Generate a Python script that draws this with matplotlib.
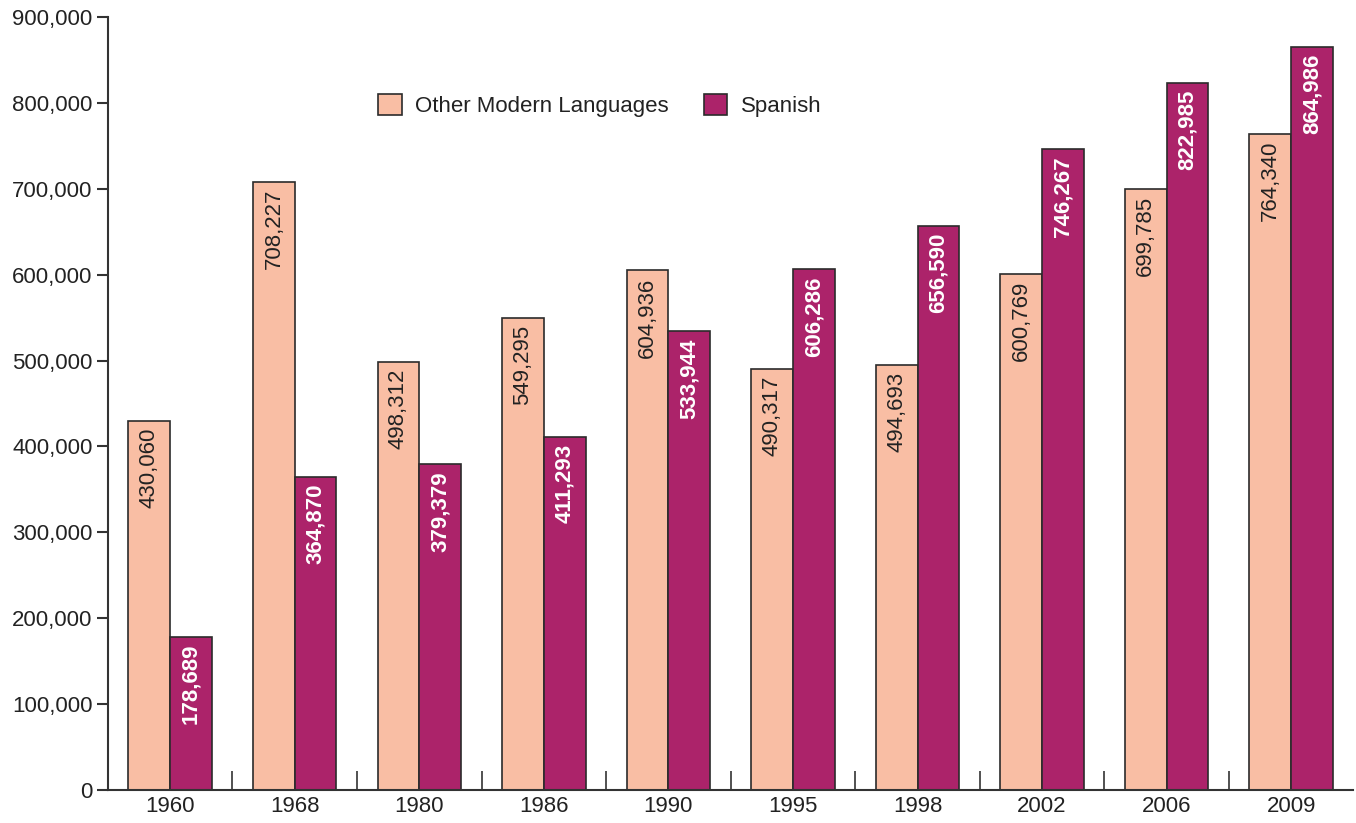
import numpy as np
import matplotlib.pyplot as plt
from matplotlib.ticker import FuncFormatter
from matplotlib import font_manager

years = ['1960', '1968', '1980', '1986', '1990', '1995', '1998', '2002', '2006', '2009']
other_languages = [430060, 708227, 498312, 549295, 604936, 490317, 494693, 600769, 699785, 764340]
spanish = [178689, 364870, 379379, 411293, 533944, 606286, 656590, 746267, 822985, 864986]

PEACH = '#F9BEA4'
PURPLE = '#AC236A'
EDGE = '#2b2b2b'

names = {f.name for f in font_manager.fontManager.ttflist}
family = 'Liberation Sans Narrow' if 'Liberation Sans Narrow' in names else 'Liberation Sans'
plt.rcParams['font.family'] = [family, 'DejaVu Sans']

fig = plt.figure(figsize=(13.56, 8.23), dpi=100)
ax = fig.add_axes([0.0796, 0.0401, 0.9185, 0.9392])

x = np.arange(len(years))
w = 0.335
b1 = ax.bar(x - w / 2, other_languages, w, color=PEACH, edgecolor=EDGE, linewidth=1.2, label='Other Modern Languages')
b2 = ax.bar(x + w / 2, spanish, w, color=PURPLE, edgecolor=EDGE, linewidth=1.2, label='Spanish')

for rect, v in zip(b1, other_languages):
    ax.annotate(f'{v:,}', (rect.get_x() + rect.get_width() / 2, v), xytext=(0, -5),
                textcoords='offset points', rotation=90, ha='center', va='top',
                fontsize=16, color='#222222')
for rect, v in zip(b2, spanish):
    ax.annotate(f'{v:,}', (rect.get_x() + rect.get_width() / 2, v), xytext=(0, -5),
                textcoords='offset points', rotation=90, ha='center', va='top',
                fontsize=16, color='white', fontweight='bold')

ax.set_xlim(-0.5, 9.5)
ax.set_ylim(0, 900000)
ax.set_yticks(np.arange(0, 900001, 100000))
ax.yaxis.set_major_formatter(FuncFormatter(lambda v, p: f'{int(v):,}'))
ax.set_xticks(x)
ax.set_xticklabels(years)
ax.set_xticks(np.arange(0.5, 9, 1), minor=True)

ax.tick_params(axis='y', direction='out', length=8, width=1.5, color='#333333',
               labelsize=16, labelcolor='#222222', pad=3)
ax.tick_params(axis='x', which='major', length=0, labelsize=16, labelcolor='#222222', pad=4)
ax.tick_params(axis='x', which='minor', direction='in', length=14, width=1.2, color='#333333')

for s in ['top', 'right']:
    ax.spines[s].set_visible(False)
for s in ['left', 'bottom']:
    ax.spines[s].set_linewidth(1.5)
    ax.spines[s].set_color('#333333')

leg = ax.legend(loc='upper left', bbox_to_anchor=(0.217, 0.9), ncol=2, frameon=False,
                fontsize=16, handlelength=1.05, handleheight=1.05, columnspacing=1.6,
                handletextpad=0.6, borderaxespad=0, borderpad=0)
for t in leg.get_texts():
    t.set_color('#222222')

fig.savefig('out.png', dpi=100)
